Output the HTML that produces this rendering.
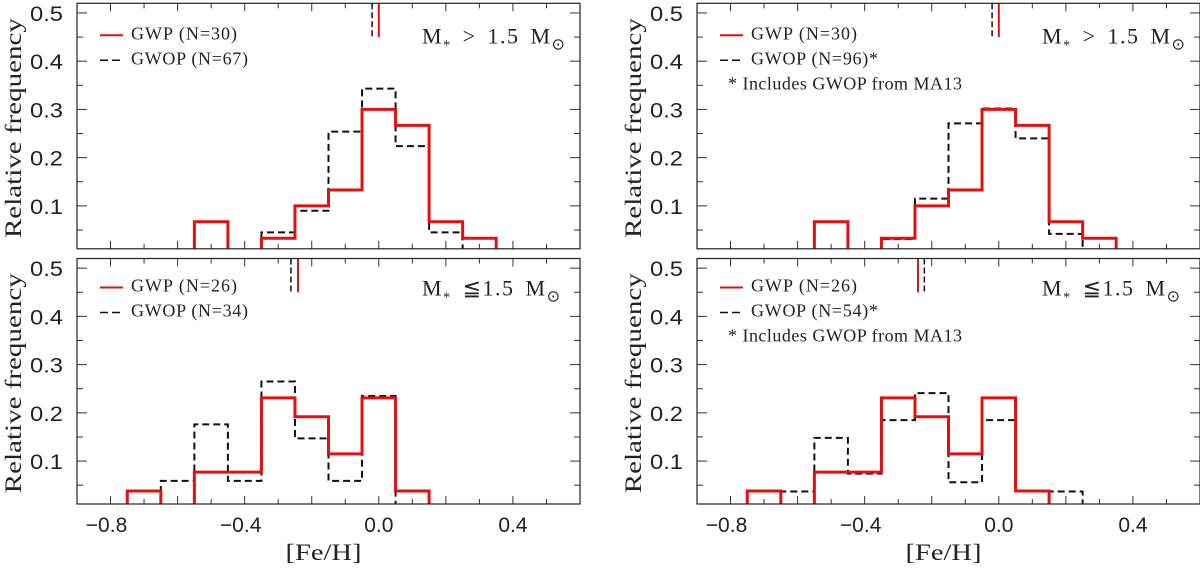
<!DOCTYPE html>
<html><head><meta charset="utf-8"><style>
html,body{margin:0;padding:0;background:#fff;width:1200px;height:569px;overflow:hidden}
svg text{fill:#222}
.tk{font-family:"Liberation Sans",sans-serif;font-size:21px}
.sf{font-family:"Liberation Serif",serif}
</style></head><body>
<svg id="chart" width="1200" height="569" viewBox="0 0 1200 569" xmlns="http://www.w3.org/2000/svg"></svg>
<script>
const binWidth = 0.1;
const tlRedStart = -0.55;
const tlRed = [0.067, 0, 0.033, 0.100, 0.133, 0.300, 0.267, 0.067, 0.033];
const tlBlackStart = -0.35;
const tlBlack = [0.045, 0.090, 0.254, 0.343, 0.224, 0.045];
const trBlackStart = -0.35;
const trBlack = [0.031, 0.115, 0.271, 0.302, 0.240, 0.042];
const blRedStart = -0.75;
const blRed = [0.038, 0, 0.077, 0.077, 0.231, 0.192, 0.115, 0.231, 0.038];
const blBlackStart = -0.65;
const blBlack = [0.059, 0.176, 0.059, 0.265, 0.147, 0.059, 0.235];
const brBlackStart = -0.65;
const brBlack = [0.037, 0.148, 0.074, 0.185, 0.241, 0.056, 0.185, 0.037, 0.037];
const meanTL = [0.0, -0.02];
const meanTR = [0.0, -0.02];
const meanBL = [-0.241, -0.262];
const meanBR = [-0.241, -0.222];
const xTicks = [-0.8, -0.4, 0.0, 0.4];
const xTickLabels = ["\u22120.8", "\u22120.4", "0.0", "0.4"];
const yTicks = [0.1, 0.2, 0.3, 0.4, 0.5];
const yTickLabels = ["0.1", "0.2", "0.3", "0.4", "0.5"];

const NS = "http://www.w3.org/2000/svg";
const svg = document.getElementById('chart');
function el(tag, attrs, parent, txt) {
  const e = document.createElementNS(NS, tag);
  for (const k in attrs) e.setAttribute(k, attrs[k]);
  if (txt !== undefined) e.textContent = txt;
  (parent || svg).appendChild(e);
  return e;
}
const XMIN = -0.9, XMAX = 0.6, YMIN = 0.011, YMAX = 0.52;

function panel(cfg) {
  const g = el('g', {});
  
  
  const L = cfg.left, R = cfg.left + 503, T = cfg.top, B = cfg.top + 245.5;
  const sx = v => L + (v - XMIN) / (XMAX - XMIN) * (R - L);
  const sy = v => B - (Math.max(v, YMIN) - YMIN) / (YMAX - YMIN) * (B - T);
  for (let i = -9; i <= 6; i++) {
    const v = i / 10, x = sx(v);
    if (x <= L + 1 || x >= R - 1) continue;
    const len = (i % 2 === 0) ? 8 : 5;
    const t1 = el('line', {x1: x, x2: x, y1: T, y2: T + len, stroke: '#333', 'stroke-width': 1}, g);
    
    
    const t2 = el('line', {x1: x, x2: x, y1: B, y2: B - len, stroke: '#333', 'stroke-width': 1}, g);
    
    
  }
  for (let i = 1; i <= 10; i++) {
    const v = i * 0.05, y = sy(v);
    const len = (i % 2 === 0) ? 10 : 6;
    const t1 = el('line', {x1: L, x2: L + len, y1: y, y2: y, stroke: '#333', 'stroke-width': 1}, g);
    
    
    const t2 = el('line', {x1: R, x2: R - len, y1: y, y2: y, stroke: '#333', 'stroke-width': 1}, g);
    
    
  }
  yTicks.forEach((v, i) => {
    const t = el('text', {x: L - 14, y: sy(v) + 8, 'text-anchor': 'end', class: 'tk', textLength: 33, lengthAdjust: 'spacingAndGlyphs'}, g, yTickLabels[i]);
    
    
  });
  if (cfg.xlabels) {
    xTicks.forEach((v, i) => {
      const t = el('text', {x: sx(v) + (v < 0 ? -4 : 0), y: B + 28, 'text-anchor': 'middle', class: 'tk'}, g, xTickLabels[i]);
      
      
    });
    const xt = el('text', {x: (L + R) / 2 - 5, y: B + 56, 'text-anchor': 'middle', class: 'sf', 'font-size': 23, textLength: 76, lengthAdjust: 'spacingAndGlyphs'}, g, '[Fe/H]');
    
    
  }
  const yc = (T + B) / 2;
  const ylab = el('text', {x: 0, y: 0, transform: `translate(${L - 56},${yc + 2}) rotate(-90)`, 'text-anchor': 'middle', class: 'sf', 'font-size': 23, textLength: 220, lengthAdjust: 'spacingAndGlyphs'}, g, 'Relative frequency');
  
  

  function hist(start, vals, color, w, dash, nm) {
    let d = '';
    let open = false;
    vals.forEach((v, i) => {
      const x0 = sx(start + i * binWidth), x1 = sx(start + (i + 1) * binWidth);
      if (v <= 0) {
        if (open) { d += ` L${x0},${B}`; open = false; }
        return;
      }
      if (!open) { d += ` M${x0},${B}`; open = true; }
      d += ` L${x0},${sy(v)} L${x1},${sy(v)}`;
    });
    if (open) d += ` L${sx(start + vals.length * binWidth)},${B}`;
    const p = el('path', {d: d.trim(), fill: 'none', stroke: color, 'stroke-width': w, 'stroke-dasharray': dash || 'none', 'stroke-linejoin': 'miter'}, g);
    
    
  }
  hist(cfg.bStart, cfg.black, '#111', 2, '7,4', 'gwop-histogram');
  hist(cfg.rStart, cfg.red, '#e31010', 3, null, 'gwp-histogram');
  const mb = el('line', {x1: sx(cfg.mean[1]), x2: sx(cfg.mean[1]), y1: T, y2: sy(0.45), stroke: '#111', 'stroke-width': 1.5, 'stroke-dasharray': '6,3'}, g);
  
  
  const mr = el('line', {x1: sx(cfg.mean[0]), x2: sx(cfg.mean[0]), y1: T, y2: sy(0.45), stroke: '#e31010', 'stroke-width': 2}, g);
  
  

  const fr = el('rect', {x: L, y: T, width: R - L, height: B - T, fill: 'none', stroke: '#222', 'stroke-width': 1.2}, g);
  
  

  const ly1 = T + cfg.legDy, ly2 = ly1 + 25;
  const lg = el('g', {}, g);
  
  
  const l1 = el('line', {x1: L + 23, x2: L + 46, y1: ly1 - 4, y2: ly1 - 4, stroke: '#e31010', 'stroke-width': 2}, lg);
  
  
  const t1 = el('text', {x: L + 54, y: ly1, class: 'sf', 'font-size': 18, textLength: 106, lengthAdjust: 'spacing'}, lg, cfg.leg1);
  
  
  const l2 = el('line', {x1: L + 23, x2: L + 46, y1: ly2 - 4, y2: ly2 - 4, stroke: '#111', 'stroke-width': 1.5, 'stroke-dasharray': '8,4'}, lg);
  
  
  const t2 = el('text', {x: L + 54, y: ly2, class: 'sf', 'font-size': 18, textLength: cfg.leg2w, lengthAdjust: 'spacing'}, lg, cfg.leg2);
  
  
  if (cfg.note) {
    const t3 = el('text', {x: L + 31, y: ly2 + 25, class: 'sf', 'font-size': 18, textLength: 234, lengthAdjust: 'spacing'}, lg, '* Includes GWOP from MA13');
    
    
  }
  const mt = el('text', {x: L + 345, y: T + cfg.legDy + 4, class: 'sf', 'font-size': 22, 'letter-spacing': 1.5, 'word-spacing': 4}, g);
  
  
  el('tspan', {}, mt, 'M');
  el('tspan', {'font-size': 14, dy: 6}, mt, '*');
  el('tspan', {dy: -6}, mt, cfg.massOp);
  el('tspan', {}, mt, ' M');
  el('tspan', {'font-size': 16, dy: 6}, mt, '\u2299');
}

panel({name: 'panel-top-left', left: 77, top: 3.3, red: tlRed, rStart: tlRedStart, black: tlBlack, bStart: tlBlackStart, mean: meanTL,
  leg1: 'GWP (N=30)', leg2: 'GWOP (N=67)', leg2w: 117, note: false, massOp: ' > 1.5', legDy: 36, xlabels: false});
panel({name: 'panel-top-right', left: 697, top: 3.3, red: tlRed, rStart: tlRedStart, black: trBlack, bStart: trBlackStart, mean: meanTR,
  leg1: 'GWP (N=30)', leg2: 'GWOP (N=96)*', leg2w: 127, note: true, massOp: ' > 1.5', legDy: 36, xlabels: false});
panel({name: 'panel-bottom-left', left: 77, top: 258.5, red: blRed, rStart: blRedStart, black: blBlack, bStart: blBlackStart, mean: meanBL,
  leg1: 'GWP (N=26)', leg2: 'GWOP (N=34)', leg2w: 117, note: false, massOp: ' \u22661.5', legDy: 33, xlabels: true});
panel({name: 'panel-bottom-right', left: 697, top: 258.5, red: blRed, rStart: blRedStart, black: brBlack, bStart: brBlackStart, mean: meanBR,
  leg1: 'GWP (N=26)', leg2: 'GWOP (N=54)*', leg2w: 127, note: true, massOp: ' \u22661.5', legDy: 33, xlabels: true});
</script>
</body></html>
